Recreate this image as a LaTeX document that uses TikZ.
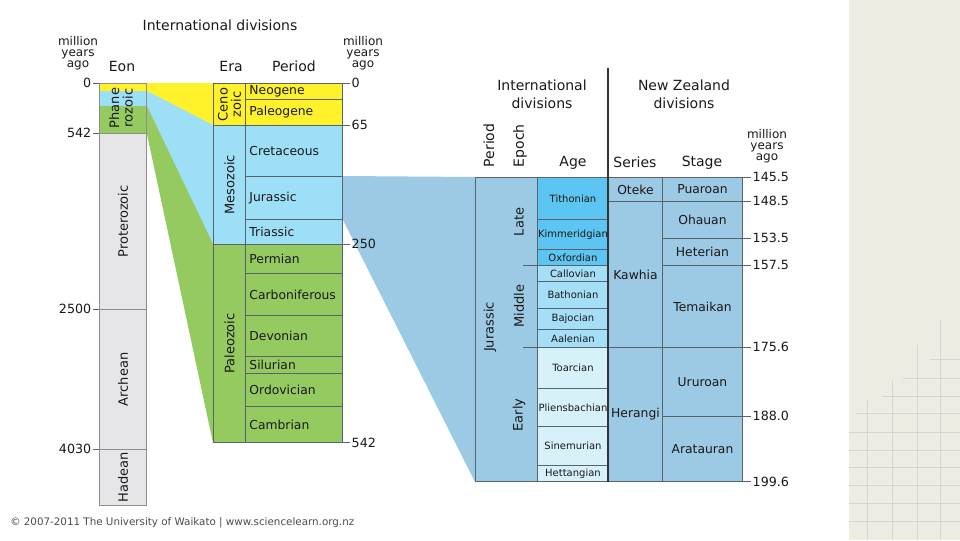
\documentclass[tikz,border=0pt]{standalone}
\usepackage{fontspec}
\setmainfont{DejaVu Sans}
\usetikzlibrary{backgrounds}
\definecolor{cenoyellow}{HTML}{FFF22B}
\definecolor{mesoblue}{HTML}{9DDFF7}
\definecolor{paleogreen}{HTML}{94CA60}
\definecolor{eongray}{HTML}{E6E6E8}
\definecolor{eonedge}{HTML}{8E8E90}
\definecolor{jurblue}{HTML}{9CC9E4}
\definecolor{lateblue}{HTML}{5CC5F1}
\definecolor{midblue}{HTML}{A5DEF7}
\definecolor{earlyblue}{HTML}{D7F1FB}
\definecolor{edge}{HTML}{55656B}
\definecolor{panel}{HTML}{EEEBE2}
\definecolor{gridline}{HTML}{CFD7D9}

\begin{document}
\begin{tikzpicture}[x=0.75pt,y=-0.75pt,
  box/.style={draw=edge,line width=0.7pt,inner sep=0pt,anchor=north west},
  eonbox/.style={box,draw=eonedge,minimum width=35.25pt},
  tick/.style={draw=edge,line width=0.7pt},
  divider/.style={draw=black!80,line width=1.1pt},
  num/.style={font=\fontsize{9.5}{9.5}\selectfont,text=black!90,inner sep=1pt},
  head/.style={font=\fontsize{10.5}{13.5}\selectfont,align=center,text=black!90},
  mya/.style={font=\fontsize{9}{8.25}\selectfont,align=center,text=black!90},
  lbl/.style={font=\fontsize{9.25}{10}\selectfont,align=center,text=black!90},
  uplbl/.style={font=\fontsize{9.75}{10}\selectfont,align=center,text=black!90,rotate=90},
  agelbl/.style={font=\fontsize{7.5}{8}\selectfont,text=black!90},
  foot/.style={font=\fontsize{7.75}{8}\selectfont,text=black!70,inner sep=0pt}]
  \useasboundingbox (0,0) rectangle (960,540);

  \node[head] (intl) at (220,25) {International divisions};
  \node[mya] (myaL) at (78,53) {million\\years\\ago};
  \node[head] (eonH) at (122,66) {Eon};
  \node[head] (eraH) at (231,66) {Era};
  \node[head] (periodH) at (294,66) {Period};
  \node[mya] (myaM) at (363,53) {million\\years\\ago};

  \node[eonbox,draw=none,fill=cenoyellow,minimum height=6pt] (phY) at (99,83) {};
  \node[eonbox,draw=none,fill=mesoblue,minimum height=11.25pt] (phB) at (99,91) {};
  \node[eonbox,draw=none,fill=paleogreen,minimum height=20.25pt] (phG) at (99,106) {};
  \node[eonbox,minimum height=37.5pt] (phanerozoic) at (99,83) {};
  \node[eonbox,fill=eongray,minimum height=132pt] (proterozoic) at (99,133) {};
  \node[eonbox,fill=eongray,minimum height=105pt] (archean) at (99,309) {};
  \node[eonbox,fill=eongray,minimum height=42pt] (hadean) at (99,449) {};
  \node[uplbl] (phanL) at (121,108) {Phane\\rozoic};
  \foreach \n/\txt in {proterozoic/Proterozoic,archean/Archean,hadean/Hadean}
    \node[uplbl] (\n L) at (\n.center) {\txt};
  \foreach \n/\v in {phanerozoic/0,proterozoic/542,archean/2500,hadean/4030}
    \draw[tick] (\n.north west) -- ++(-6,0) node[num,anchor=east] {\v};

  \node[box,fill=cenoyellow,minimum width=24pt,minimum height=31.5pt] (cenozoic) at (213,83) {};
  \node[box,fill=mesoblue,minimum width=24pt,minimum height=89.25pt] (mesozoic) at (213,125) {};
  \node[box,fill=paleogreen,minimum width=24pt,minimum height=148.5pt] (paleozoic) at (213,244) {};
  \node[uplbl] (cenoL) at (cenozoic.center) {Ceno\\zoic};
  \node[uplbl] (mesoL) at (mesozoic.center) {Mesozoic};
  \node[uplbl] (paleoL) at (paleozoic.center) {Paleozoic};

  \foreach \n/\t/\b/\c/\txt in {neogene/83/99/cenoyellow/Neogene,paleogene/99/125/cenoyellow/Paleogene,
      cretaceous/125/176/mesoblue/Cretaceous,jurP/176/219/mesoblue/Jurassic,triassic/219/244/mesoblue/Triassic,
      permian/244/273/paleogreen/Permian,carboniferous/273/315/paleogreen/Carboniferous,
      devonian/315/356/paleogreen/Devonian,silurian/356/373/paleogreen/Silurian,
      ordovician/373/406/paleogreen/Ordovician,cambrian/406/442/paleogreen/Cambrian}
    \node[box,lbl,fill=\c,minimum height={(\b-\t)*0.75pt},text width=66.75pt,inner xsep=3pt,align=left] (\n) at (245,\t) {\txt};
  \draw[tick] (neogene.north east) -- ++(7,0) node[num,anchor=west] {0};
  \draw[tick] (cretaceous.north east) -- ++(7,0) node[num,anchor=west] {65};
  \draw[tick] (permian.north east) -- ++(7,0) node[num,anchor=west] {250};
  \draw[tick] (cambrian.south east) -- ++(7,0) node[num,anchor=west] {542};

  \node[head] (intlR) at (542,94) {International\\divisions};
  \node[head] (nzH) at (684,94) {New Zealand\\divisions};
  \node[head,rotate=90,anchor=west] (periodR) at (489,172) {Period};
  \node[head,rotate=90,anchor=west] (epochH) at (520,172) {Epoch};
  \node[head] (ageH) at (573,163) {Age};
  \node[head] (seriesH) at (635,162) {Series};
  \node[head] (stageH) at (702,163) {Stage};
  \node[mya] (myaR) at (767,146) {million\\years\\ago};

  \node[box,fill=jurblue,minimum width=46.5pt,minimum height=228pt] (jurbox) at (475,177) {};
  \node[uplbl] (jurL) at (490,327) {Jurassic};
  \node[uplbl] (lateL) at (519,222) {Late};
  \node[uplbl] (middleL) at (519,306) {Middle};
  \node[uplbl] (earlyL) at (519,415) {Early};

  \foreach \n/\t/\b/\c/\txt in {tithonian/177/219/lateblue/Tithonian,kimmeridgian/219/249/lateblue/Kimmeridgian,
      oxfordian/249/265/lateblue/Oxfordian,callovian/265/281/midblue/Callovian,bathonian/281/308/midblue/Bathonian,
      bajocian/308/329/midblue/Bajocian,aalenian/329/347/midblue/Aalenian,toarcian/347/388/earlyblue/Toarcian,
      pliensbachian/388/426/earlyblue/Pliensbachian,sinemurian/426/465/earlyblue/Sinemurian,
      hettangian/465/481/earlyblue/Hettangian}
    \node[box,agelbl,fill=\c,minimum width=53.25pt,minimum height={(\b-\t)*0.75pt}] (\n) at (537,\t) {\txt};
  \draw[tick] (callovian.north west) -- ++(-14,0);
  \draw[tick] (toarcian.north west) -- ++(-14,0);

  \foreach \n/\t/\b/\txt in {oteke/177/201/Oteke,kawhia/201/347/Kawhia,herangi/347/481/Herangi}
    \node[box,lbl,fill=jurblue,minimum width=40.5pt,minimum height={(\b-\t)*0.75pt}] (\n) at (608,\t) {\txt};
  \foreach \n/\t/\b/\txt in {puaroan/177/201/Puaroan,ohauan/201/238/Ohauan,heterian/238/265/Heterian,
      temaikan/265/347/Temaikan,ururoan/347/416/Ururoan,aratauran/416/481/Aratauran}
    \node[box,lbl,fill=jurblue,minimum width=60pt,minimum height={(\b-\t)*0.75pt}] (\n) at (662,\t) {\txt};
  \foreach \n/\v in {puaroan/145.5,ohauan/148.5,heterian/153.5,temaikan/157.5,ururoan/175.6,aratauran/188.0}
    \draw[tick] (\n.north east) -- ++(8,0) node[num,anchor=west] {\v};
  \draw[tick] (aratauran.south east) -- ++(8,0) node[num,anchor=west] {199.6};
  \coordinate (divtop) at (608,68);
  \draw[divider] (divtop) -- (herangi.south west);

  \node[foot,anchor=west] (credit) at (10,523) {© 2007-2011 The University of Waikato | www.sciencelearn.org.nz};

  \begin{pgfonlayer}{background}
    \fill[panel] (849,0) rectangle (960,540);
    \foreach \x/\t in {867/400,892/380,917/345,940/320}
      \draw[gridline,line width=0.6pt] (\x,\t) -- (\x,540);
    \foreach \y/\s in {359/930,378/903,396/882,413/856,432/849,450/849,467/849,485/849,503/849,521/849}
      \draw[gridline,line width=0.6pt] (\s,\y) -- (960,\y);
    \fill[cenoyellow] (phY.north east) -- (cenozoic.north west) -- (cenozoic.south west) -- (phY.south east) -- cycle;
    \fill[mesoblue] (phB.north east) -- (mesozoic.north west) -- (mesozoic.south west) -- (phB.south east) -- cycle;
    \fill[paleogreen] (phG.north east) -- (paleozoic.north west) -- (paleozoic.south west) -- (phG.south east) -- cycle;
    \fill[jurblue] (jurP.north east) -- (jurbox.north west) -- (jurbox.south west) -- (jurP.south east) -- cycle;
  \end{pgfonlayer}
\end{tikzpicture}
\end{document}
